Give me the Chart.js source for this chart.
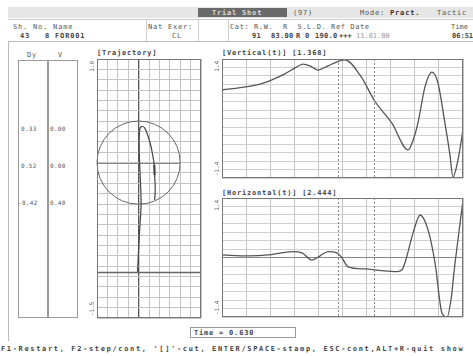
<!DOCTYPE html>
<html>
<head>
<meta charset="utf-8">
<script src="https://cdn.jsdelivr.net/npm/chart.js@4.4.1/dist/chart.umd.min.js"></script>
<style>
body{margin:0;width:473px;height:356px;background:#fff;position:relative;overflow:hidden;font-family:"DejaVu Sans Mono",monospace;color:#555}
.t{position:absolute;font-size:7px;line-height:8px;white-space:pre;letter-spacing:0.8px}
.b{font-weight:bold;color:#444}
.ln{position:absolute;background:#aaa}
.box{position:absolute;border:1px solid #999;box-sizing:border-box}
.cv{position:absolute}
</style>
</head>
<body>
<!-- header -->
<div class="ln" style="left:8px;top:7px;width:465px;height:11px;background:#e6e6e6"></div>
<div class="ln" style="left:198px;top:8px;width:89px;height:9px;background:#6a6a6a"></div>
<div class="t b" style="left:212px;top:9px;color:#ddd">Trial Shot</div>
<div class="t" style="left:293px;top:9px">(97)</div>
<div class="t" style="left:360px;top:9px">Mode: <b style="color:#333">Pract.</b></div>
<div class="t" style="left:437px;top:9px">Tactic</div>

<div class="t" style="left:13px;top:23px">Sh. No. Name</div>
<div class="t" style="left:148px;top:23px">Nat Exer:</div>
<div class="t" style="left:230px;top:23px;letter-spacing:0.6px">Cat: R.W.  R  S.L.D. Ref Date</div>
<div class="t" style="left:451px;top:23px;letter-spacing:0">Time</div>
<div class="t b" style="left:20px;top:32px">43   8 FOR001</div>
<div class="t" style="left:172px;top:32px">CL</div>
<div class="t b" style="left:252px;top:32px;letter-spacing:0.3px">91</div>
<div class="t b" style="left:271px;top:32px;letter-spacing:0.3px">83.00</div>
<div class="t b" style="left:296px;top:32px">R</div>
<div class="t b" style="left:305px;top:32px">0</div>
<div class="t b" style="left:315px;top:32px;letter-spacing:0.3px">190.0</div>
<div class="t b" style="left:339px;top:32px;letter-spacing:0">+++</div>
<div class="t" style="left:356px;top:32px;color:#999;letter-spacing:0">11.01.00</div>
<div class="t b" style="left:452px;top:32px;letter-spacing:0">06:51</div>
<div class="ln" style="left:8px;top:19px;width:465px;height:1px;background:#ccc"></div>
<div class="ln" style="left:146px;top:20px;width:1px;height:21px;background:#ccc"></div>
<div class="ln" style="left:198px;top:20px;width:1px;height:21px;background:#ccc"></div>
<div class="ln" style="left:228px;top:20px;width:1px;height:21px;background:#ccc"></div>
<div class="ln" style="left:8px;top:41px;width:465px;height:1px;background:#bbb"></div>
<div class="ln" style="left:8px;top:41px;width:1px;height:300px;background:#bbb"></div>

<!-- Dy / V panel -->
<div class="t" style="left:27px;top:51px">Dy</div>
<div class="t" style="left:58px;top:51px">V</div>
<div class="box" style="left:18px;top:60px;width:30px;height:258px"></div>
<div class="box" style="left:48px;top:60px;width:30px;height:258px"></div>
<div id="panel"></div>

<!-- titles -->
<div class="t b" style="left:97px;top:49px">[Trajectory]</div>
<div class="t b" style="left:222px;top:49px">[Vertical(t)] [1.368]</div>
<div class="t b" style="left:222px;top:189px">[Horizontal(t)] [2.444]</div>

<div class="cv" style="left:84px;top:57px;width:119px;height:263px"><canvas id="traj"></canvas></div>
<div class="cv" style="left:208px;top:57px;width:257px;height:123px"><canvas id="vert"></canvas></div>
<div class="cv" style="left:208px;top:196px;width:257px;height:123px"><canvas id="horz"></canvas></div>

<div class="box" style="left:190px;top:327px;width:106px;height:11px"></div>
<div class="t b" style="left:194px;top:329px" id="timebox"></div>
<div class="t b" style="left:1px;top:345px;letter-spacing:1.65px">F1-Restart, F2-step/cont, '[]'-cut, ENTER/SPACE-stamp, ESC-cont,ALT+R-quit show</div>

<script>
// trajectory (mm/10)
const trajX = [-0.01, 0, 0.01, 0.024, 0.019, 0.01, 0.005, 0.01, 0.029, 0.058, 0.087, 0.116, 0.135, 0.15, 0.154, 0.16, 0.154];
const trajY = [-1.055, -0.84, -0.65, -0.41, -0.215, -0.02, 0.17, 0.316, 0.35, 0.335, 0.267, 0.17, 0.074, -0.02, -0.12, -0.26, -0.36];
const ringRadius = 0.4;
const limitY = -1.06;

// vertical(t)
const vertTime = [0, 0.104, 0.158, 0.207, 0.261, 0.303, 0.336, 0.365, 0.398, 0.44, 0.481, 0.51, 0.573, 0.635, 0.705, 0.772, 0.793, 0.813, 0.842, 0.871, 0.896, 0.925, 0.946, 0.958, 0.979, 1.0];
const vertValues = [0.67, 0.75, 0.81, 0.91, 1.05, 1.19, 1.28, 1.24, 1.14, 1.24, 1.34, 1.38, 1.02, 0.40, -0.11, -0.74, -0.51, -0.11, 0.74, 1.09, 0.84, -0.11, -0.86, -1.38, -0.98, -0.27];

// horizontal(t)
const horzTime = [0, 0.108, 0.191, 0.295, 0.332, 0.373, 0.407, 0.44, 0.477, 0.498, 0.523, 0.593, 0.664, 0.726, 0.747, 0.759, 0.793, 0.822, 0.855, 0.884, 0.913, 0.934, 0.95, 0.967, 1.0];
const horzValues = [0.06, 0.04, 0.06, 0.14, 0.11, -0.06, 0.04, 0.14, 0.11, -0.01, -0.22, -0.27, -0.31, -0.33, -0.29, -0.13, 0.58, 1.0, 0.65, -0.13, -1.31, -1.4, -1.0, -0.13, 1.35];

const markerTimes = [0.48, 0.63];
const currentTime = 0.630;
const panelDy = ['0.33', '0.52', '-0.42'];
const panelV = ['0.00', '0.00', '0.40'];
const panelRows = [125, 162, 199];

document.getElementById('timebox').textContent = 'Time = ' + currentTime.toFixed(3);
const panel = document.getElementById('panel');
panelRows.forEach((y, i) => {
  panel.insertAdjacentHTML('beforeend',
    '<div class="t" style="font-size:6px;letter-spacing:0.3px;left:' + (panelDy[i][0] === '-' ? 18 : 21) + 'px;top:' + y + 'px">' + panelDy[i] + '</div>' +
    '<div class="t" style="font-size:6px;letter-spacing:0.3px;left:50px;top:' + y + 'px">' + panelV[i] + '</div>');
});

const fmt = v => (Math.round(v * 10) / 10).toFixed(1);

// frame, rotated min/max labels and time markers
const framePlugin = {
  id: 'frame',
  afterDraw(chart, args, opts) {
    const { ctx, chartArea: a, scales } = chart;
    ctx.save();
    ctx.strokeStyle = '#777';
    ctx.lineWidth = 1;
    ctx.strokeRect(a.left + 0.5, a.top + 0.5, a.right - a.left - 1, a.bottom - a.top - 1);
    if (opts.markers) {
      ctx.setLineDash([2, 2]);
      ctx.strokeStyle = '#888';
      opts.markers.forEach(t => {
        const x = Math.round(scales.x.getPixelForValue(t)) + 0.5;
        ctx.beginPath(); ctx.moveTo(x, a.top); ctx.lineTo(x, a.bottom); ctx.stroke();
      });
      ctx.setLineDash([]);
    }
    ctx.fillStyle = '#666';
    ctx.font = '6px "DejaVu Sans Mono"';
    ctx.textBaseline = 'middle';
    ctx.translate(a.left - 5, a.top + 2);
    ctx.rotate(-Math.PI / 2);
    ctx.textAlign = 'right';
    ctx.fillText(fmt(scales.y.max), 0, 0);
    ctx.rotate(Math.PI / 2);
    ctx.translate(0, a.bottom - a.top - 4);
    ctx.rotate(-Math.PI / 2);
    ctx.textAlign = 'left';
    ctx.fillText(fmt(scales.y.min), 0, 0);
    ctx.restore();
  }
};

const targetPlugin = {
  id: 'target',
  beforeDatasetsDraw(chart) {
    const { ctx, chartArea: a, scales: { x, y } } = chart;
    const cx = x.getPixelForValue(0), cy = y.getPixelForValue(0);
    const r = x.getPixelForValue(ringRadius) - cx;
    ctx.save();
    ctx.strokeStyle = '#666';
    ctx.lineWidth = 1;
    ctx.beginPath(); ctx.arc(cx, cy, r, 0, Math.PI * 2); ctx.stroke();
    ctx.strokeStyle = '#888';
    ctx.beginPath(); ctx.moveTo(cx - r, Math.round(cy) + 0.5); ctx.lineTo(cx + r, Math.round(cy) + 0.5); ctx.stroke();
    const ly = Math.round(y.getPixelForValue(limitY)) + 0.5;
    ctx.strokeStyle = '#666';
    ctx.lineWidth = 1.3;
    ctx.beginPath(); ctx.moveTo(a.left, ly); ctx.lineTo(a.right, ly); ctx.stroke();
    ctx.restore();
  }
};

Chart.register(framePlugin);

const isZero = v => Math.abs(v) < 1e-9;

new Chart(document.getElementById('traj'), {
  type: 'scatter',
  data: {
    datasets: [{
      data: trajX.map((v, i) => ({ x: v, y: trajY[i] })),
      showLine: true,
      borderColor: '#444',
      borderWidth: 1.2,
      pointRadius: 0,
      tension: 0.3,
      segment: { borderWidth: c => (c.p0DataIndex === 13) ? 2.2 : 1.2 }
    }]
  },
  options: {
    responsive: true, maintainAspectRatio: false, animation: false,
    layout: { padding: { left: 13, top: 2, right: 2, bottom: 2 } },
    plugins: { legend: { display: false }, tooltip: { enabled: false }, frame: {} },
    scales: {
      x: {
        min: -0.4, max: 0.6,
        ticks: { display: false, stepSize: 0.1 },
        border: { display: false },
        grid: {
          drawTicks: false,
          color: c => isZero(c.tick.value) ? '#555' : '#c4c4c4',
          lineWidth: c => isZero(c.tick.value) ? 1.3 : 1
        }
      },
      y: {
        min: -1.5, max: 1.0,
        ticks: { display: false, stepSize: 0.1 },
        border: { display: false },
        grid: { drawTicks: false, color: '#c4c4c4' }
      }
    }
  },
  plugins: [targetPlugin]
});

function timeChart(id, times, values) {
  return new Chart(document.getElementById(id), {
    type: 'line',
    data: {
      datasets: [{
        data: times.map((t, i) => ({ x: t, y: values[i] })),
        borderColor: '#555',
        borderWidth: 1.3,
        pointRadius: 0,
        cubicInterpolationMode: 'monotone'
      }]
    },
    options: {
      responsive: true, maintainAspectRatio: false, animation: false,
      layout: { padding: { left: 14, top: 2, right: 2, bottom: 2 } },
      plugins: { legend: { display: false }, tooltip: { enabled: false }, frame: { markers: markerTimes } },
      scales: {
        x: {
          type: 'linear', min: 0, max: 1,
          ticks: { display: false, stepSize: 0.1 },
          border: { display: false },
          grid: { drawTicks: false, color: '#c4c4c4' }
        },
        y: {
          min: -1.4, max: 1.4,
          ticks: { display: false, stepSize: 0.2 },
          border: { display: false },
          grid: { drawTicks: false, color: c => isZero(c.tick.value) && id === 'horz' ? '#888' : '#d0d0d0' }
        }
      }
    }
  });
}

timeChart('vert', vertTime, vertValues);
timeChart('horz', horzTime, horzValues);
</script>
</body>
</html>
